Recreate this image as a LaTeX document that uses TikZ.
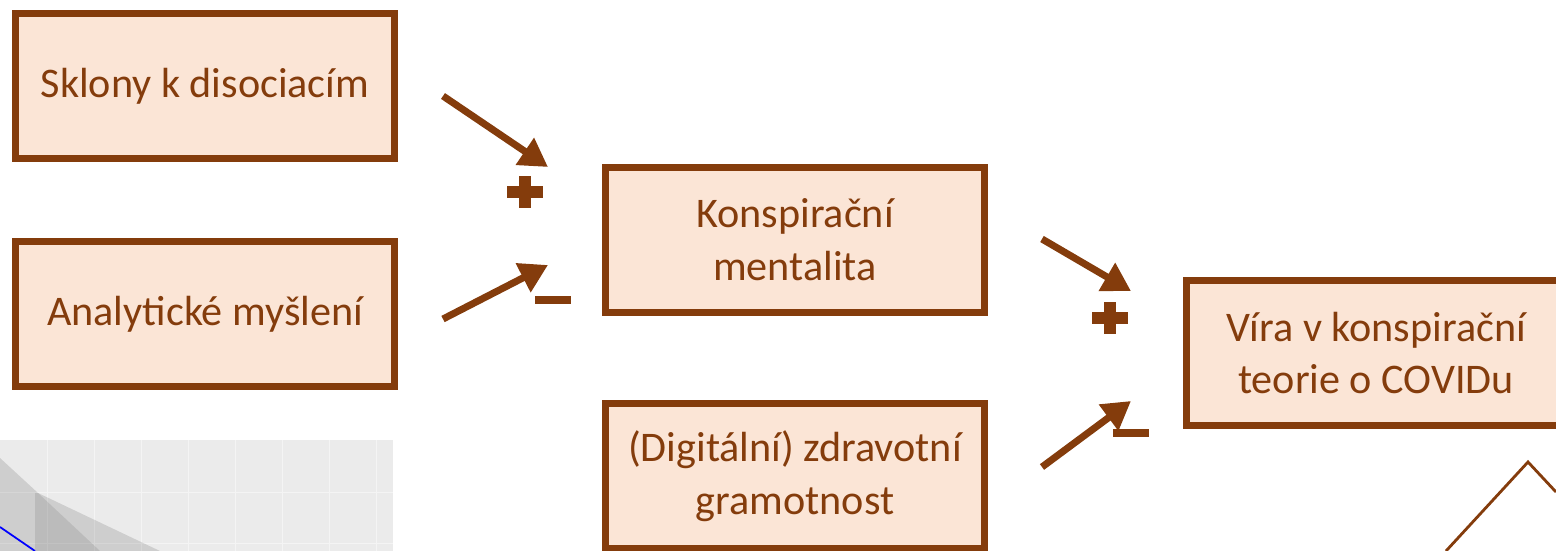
\documentclass[tikz,border=0pt]{standalone}
\usepackage{fontspec}
\setmainfont{Carlito}
\usetikzlibrary{arrows.meta}
\definecolor{boxbrown}{HTML}{843C0C}
\definecolor{boxfill}{HTML}{FBE5D6}
\definecolor{plotbg}{HTML}{EBEBEB}
\definecolor{plotgrid}{HTML}{F4F4F4}
\begin{document}
\begin{tikzpicture}[x=0.02cm, y=-0.02cm,
        mybox/.style={draw=boxbrown, line width=4pt, fill=boxfill, text=boxbrown,
            align=center, inner sep=0pt, minimum width=7.6cm, minimum height=2.9cm,
            font=\fontsize{24}{30}\selectfont},
        myarrow/.style={draw=boxbrown, line width=4pt, -{Triangle[length=0.56cm, width=0.62cm]}},
        myplus/.style={minimum width=0.72cm, minimum height=0.64cm, inner sep=0pt,
            path picture={
                \fill[boxbrown] ([xshift=-0.36cm, yshift=-0.125cm]path picture bounding box.center)
                    rectangle ([xshift=0.36cm, yshift=0.125cm]path picture bounding box.center);
                \fill[boxbrown] ([xshift=-0.12cm, yshift=-0.32cm]path picture bounding box.center)
                    rectangle ([xshift=0.12cm, yshift=0.32cm]path picture bounding box.center);
            }},
        myminus/.style={fill=boxbrown, inner sep=0pt, minimum width=0.72cm, minimum height=0.16cm}
    ]
    \useasboundingbox (0,0) rectangle (1556,551);

    % piece of a plot, bottom left
    \fill[plotbg] (0,440) rectangle (393,551);
    \foreach \gx in {47,94,141,188,235,282,329,376} {
        \draw[plotgrid, line width=0.5pt] (\gx,440) -- (\gx,551);
    }
    \foreach \gy in {492,543} {
        \draw[plotgrid, line width=0.5pt] (0,\gy) -- (393,\gy);
    }
    \fill[black, opacity=0.12] (0,458) -- (38,493) -- (160,551) -- (0,551) -- cycle;
    \fill[black, opacity=0.09] (35,493) -- (38,493) -- (100,551) -- (35,551) -- cycle;
    \draw[blue, line width=1pt] (0,527) -- (35,551);

    % boxes
    \node [mybox] (sklony) at (205,86) {Sklony k disociacím};
    \node [mybox] (analyt) at (205,314) {Analytické myšlení};
    \node [mybox] (mental) at (795,240) {Konspirační\\mentalita};
    \node [mybox] (gramot) at (795,476) {(Digitální) zdravotní\\gramotnost};
    \node [mybox] (vira) at (1376,353) {Víra v konspirační\\teorie o COVIDu};

    % arrows
    \coordinate (sklonyOut) at (443,96);
    \coordinate (mentalInA) at (548,167);
    \coordinate (analytOut) at (443,319);
    \coordinate (mentalInB) at (548,265);
    \coordinate (mentalOut) at (1042,239);
    \coordinate (viraInA) at (1131,291);
    \coordinate (gramotOut) at (1042,467);
    \coordinate (viraInB) at (1131,401);
    \draw [myarrow] (sklonyOut) -- (mentalInA);
    \draw [myarrow] (analytOut) -- (mentalInB);
    \draw [myarrow] (mentalOut) -- (viraInA);
    \draw [myarrow] (gramotOut) -- (viraInB);

    % signs
    \node [myplus] (plusA) at (525,192) {};
    \node [myminus] (minusA) at (553,300) {};
    \node [myplus] (plusB) at (1110,318) {};
    \node [myminus] (minusB) at (1131,433) {};

    % corner shape, bottom right
    \coordinate (peakL) at (1446,551);
    \coordinate (peak) at (1528,462);
    \coordinate (peakR) at (1556,492);
    \draw[boxbrown, line width=1.6pt] (peakL) -- (peak) -- (peakR);
\end{tikzpicture}
\end{document}
